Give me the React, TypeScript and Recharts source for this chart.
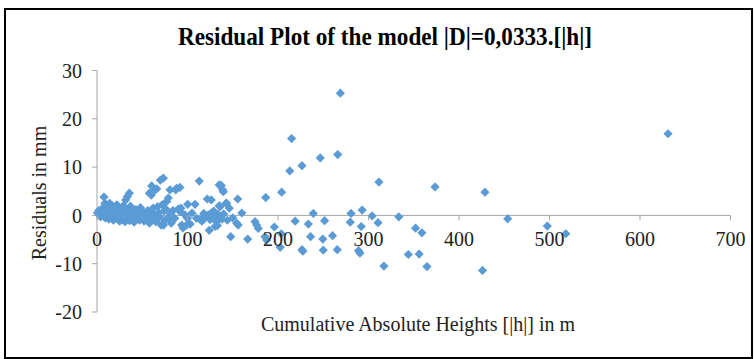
import { ReferenceLine, Scatter, ScatterChart, XAxis, YAxis } from "recharts"

const FONT = '"Liberation Serif", "Times New Roman", serif'
const BLUE = "#5B9BD5"
const AXIS = "#a6a6a6"

const xTicks = [0, 100, 200, 300, 400, 500, 600, 700]
const yTicks = [-20, -10, 0, 10, 20, 30]

// [|h|] in m, residual in mm
const nearPoints: [number, number][] = [
  [0.5, 0.5], [2, 1.0], [3, 0.2], [4, -0.3], [5, 0.8], [6, 1.5], [7, 0.3], [7.7, 3.8], [8.8, 2.5],
  [9, -0.5], [10, 0.9], [11, 1.8], [12, 0.1], [13, -0.8], [14, 2.5], [15, 1.2], [15.5, -0.2], [16, 0.6],
  [17, 2.0], [18, -1.0], [19, 1.5], [20, 0.3], [21, -0.6], [22, 2.2], [23, 0.9], [23.5, -0.6], [24, 1.6],
  [25, -1.2], [26, 0.2], [27, 1.0], [28, -0.9], [29, 2.0], [30, 0.5], [31, -1.3], [31.7, 3.2], [32, 1.3],
  [33.5, 3.9], [34, -0.5], [35, 0.8], [35.7, 4.6], [36, -1.1], [37, 1.9], [38, 0.2], [39, -0.8], [40, 0.4],
  [41, -1.4], [42, 0.1], [43, 1.2], [44, -0.4], [46, 0.9], [47, -1.0], [48, 1.6], [50, 0.3],
]

const clusterPoints: [number, number][] = [
  [51, 0.8], [52, -1.2], [53, 0.2], [55, -0.5], [56, 1.0], [57.8, 4.6], [58, -1.6], [59, 0.5], [60, 4.2],
  [60.4, 6.1], [61, -0.8], [62, 1.5], [63, 0.2], [64, 5.3], [65, -1.3], [66, 5.5], [67, 1.8], [68, 0.6],
  [69, -0.3], [70, 7.3], [71, -2.0], [72, 2.2], [73.3, 7.7], [73.5, -2.0], [74, 0.9], [75, -1.0], [76, 1.3],
  [77, 2.9], [78.8, 3.6], [79, -0.5], [80.7, 5.3], [81, 0.3], [82, -1.6], [84, 1.0], [86, -0.6], [87, 5.3],
  [88, 5.6], [89.8, 1.3], [91.7, 5.8], [91.7, 0.8], [92.8, 1.5], [93.6, -2.0], [95, -2.6], [97.2, 0.1],
  [99, -2.0], [100, -0.6], [100.2, 2.3], [103, -1.8], [105, 0.5], [108.3, 2.3], [110, -0.6], [113, 7.1],
  [113.8, -0.8], [116, -1.2], [118, 0.4], [119, -0.3], [121.9, 3.4], [123, 0.1], [124, -3.1], [125, -0.9],
  [126.3, 3.2], [127, 0.6], [128, -0.2], [129, 0.9], [130.4, -2.3], [131, -0.4], [132, -1.3], [133, -2.1],
  [134, 0.2], [135, 2.0], [135, 6.3], [136, 1.8], [137.3, 6.2], [138, -0.8], [138.8, 5.3], [139.6, 4.9],
  [140, 0.3], [142.5, 2.5], [143.3, 2.5], [144, -1.0], [146.2, 1.5], [147.7, -4.4], [150, -0.5],
  [154.4, -1.6], [155.5, 3.4], [156, -2.0], [160, 0.5],
]

const farPoints: [number, number][] = [
  [166.5, -4.9], [174.6, -1.3], [176.4, -2.0], [178.2, -2.7], [185.6, -4.4], [187.5, -5.1], [186.4, 3.7],
  [196, -2.4], [202.4, -6.6], [203.6, -3.8], [204, 4.8], [213, 9.2], [215, 15.9], [219, -1.2], [226.5, 10.3],
  [226.5, -7.1], [227.5, -7.4], [233.5, -1.8], [236, -4.4], [239, 0.4], [246.7, 11.9], [249.5, -4.9],
  [250, -7.2], [251.5, -1.1], [260.3, -4.2], [265.5, -7.1], [266, 12.6], [268.9, 25.3], [279.8, -1.4],
  [280.7, 0.4], [289, -7.3], [290.5, -7.8], [292, -2.3], [293, 1.1], [304, -0.1], [310.5, -1.5], [311.5, 6.9],
  [317, -10.5], [333.5, -0.3], [344, -8.1], [352, -2.65], [356, -8.0], [359, -3.6], [364.6, -10.6],
  [373.5, 5.9], [426, -11.4], [428.7, 4.8], [453.8, -0.7], [497.6, -2.2], [518, -3.8], [631, 16.9],
]

const residuals = [...nearPoints, ...clusterPoints, ...farPoints].map(([x, y]) => ({ x, y }))

const W = 755
const H = 359
const PLOT_TOP = 70.5
const PLOT_BOTTOM = 312
const Y_MIN = -20
const Y_MAX = 30
const ZERO_Y = PLOT_TOP + ((Y_MAX - 0) / (Y_MAX - Y_MIN)) * (PLOT_BOTTOM - PLOT_TOP)

const Diamond = (props: any) => {
  const { cx, cy } = props
  const r = 4.6
  return <polygon points={`${cx},${cy - r} ${cx + r},${cy} ${cx},${cy + r} ${cx - r},${cy}`} fill={BLUE} />
}

// x axis sits on the zero line, not at the bottom of the plot
const XTick = (props: any) => {
  const { x, payload } = props
  return (
    <g>
      <line x1={x} x2={x} y1={ZERO_Y} y2={ZERO_Y + 5} stroke={AXIS} />
      <text x={x} y={ZERO_Y + 31} textAnchor="middle" fontFamily={FONT} fontSize={20} fill="#222">
        {payload.value}
      </text>
    </g>
  )
}

export default function App() {
  return (
    <div style={{ position: "absolute", left: 0, top: 0, width: W, height: H, background: "#fff" }}>
      <ScatterChart width={W} height={H} margin={{ top: PLOT_TOP, right: 24.5, bottom: 17, left: 37 }}>
        <XAxis
          type="number"
          dataKey="x"
          domain={[0, 700]}
          ticks={xTicks}
          interval={0}
          axisLine={false}
          tickLine={false}
          height={30}
          tick={<XTick />}
        />
        <YAxis
          type="number"
          dataKey="y"
          domain={[Y_MIN, Y_MAX]}
          ticks={yTicks}
          interval={0}
          width={60}
          axisLine={{ stroke: AXIS }}
          tickLine={{ stroke: AXIS }}
          tickSize={5}
          tickMargin={10}
          tick={{ fontFamily: FONT, fontSize: 20, fill: "#222" }}
        />
        <ReferenceLine y={0} stroke={AXIS} />
        <Scatter data={residuals} shape={<Diamond />} isAnimationActive={false} />
      </ScatterChart>
      <svg width={W} height={H} style={{ position: "absolute", left: 0, top: 0, pointerEvents: "none" }}>
        <text
          x={385}
          y={45}
          textAnchor="middle"
          fontFamily={FONT}
          fontWeight="bold"
          fontSize={25}
          textLength={414}
          lengthAdjust="spacingAndGlyphs"
          fill="#000"
        >
          Residual Plot of the model |D|=0,0333.[|h|]
        </text>
        <text x={46} y={193} transform="rotate(-90, 46, 193)" textAnchor="middle" fontFamily={FONT} fontSize={20} fill="#222">
          Residuals in mm
        </text>
        <text x={418} y={331} textAnchor="middle" fontFamily={FONT} fontSize={20} fill="#222">
          Cumulative Absolute Heights [|h|] in m
        </text>
      </svg>
      <div
        style={{
          position: "absolute",
          left: 4,
          top: 8,
          width: 749,
          height: 351,
          boxSizing: "border-box",
          border: "2px solid #000",
          pointerEvents: "none",
        }}
      />
    </div>
  )
}
